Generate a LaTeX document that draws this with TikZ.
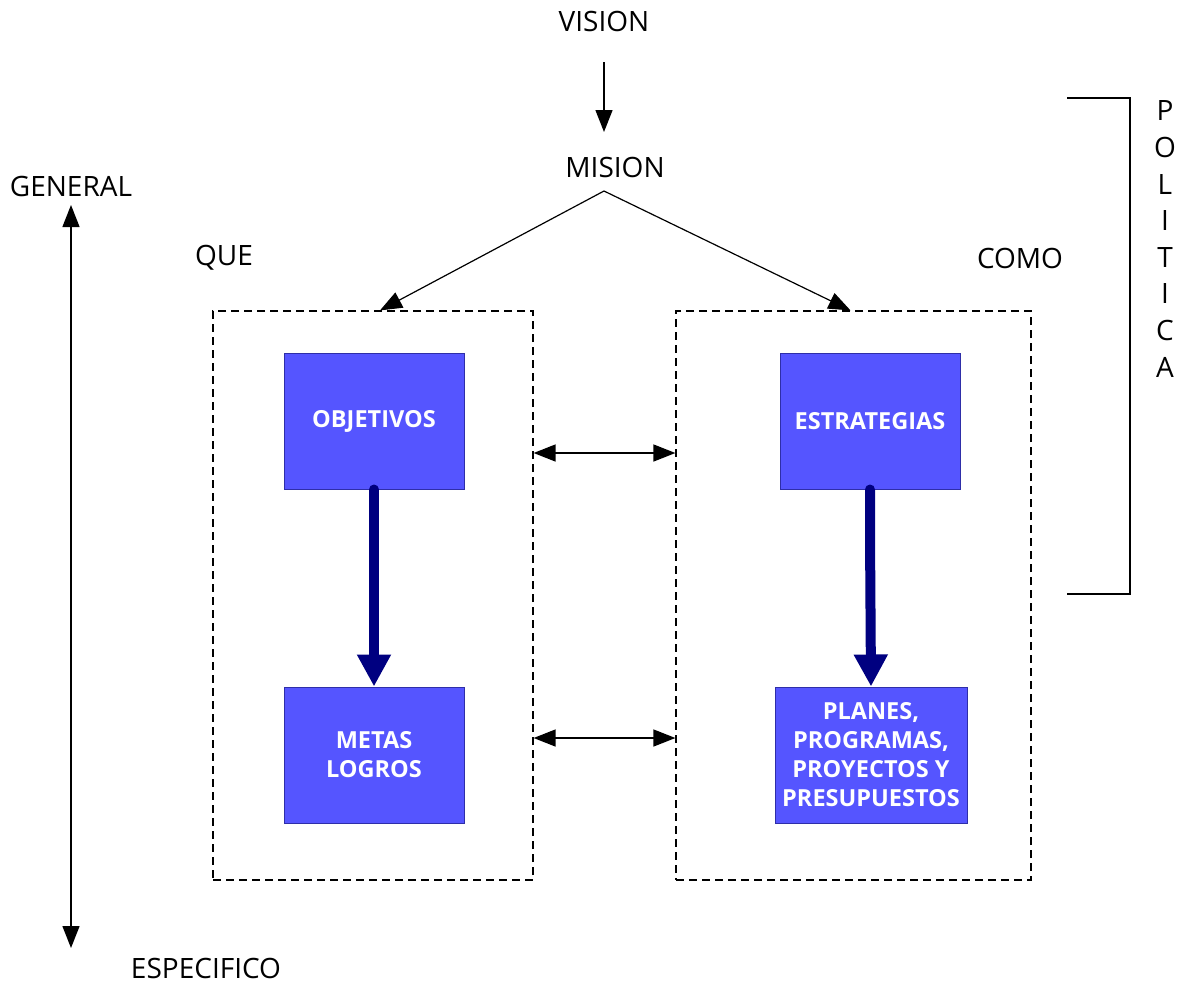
\documentclass[tikz,border=0pt]{standalone}
\usepackage{fontspec}
\setmainfont{Open Sans}
\usetikzlibrary{arrows.meta}
\definecolor{boxfill}{HTML}{5555FF}
\definecolor{boxline}{HTML}{2E2EA8}
\definecolor{flow}{HTML}{000080}
\begin{document}
\begin{tikzpicture}[x=1pt,y=-1pt,
  lbl/.style={font=\fontsize{28}{34}\selectfont, inner sep=0pt},
  bluebox/.style={draw=boxline, line width=1pt, fill=boxfill, text=white,
    font=\bfseries\fontsize{23.5}{29}\selectfont, align=center, inner sep=0pt},
  group/.style={draw, dashed, dash pattern=on 8pt off 5pt, line width=1.2pt, inner sep=0pt},
  tip/.tip={Triangle[length=22pt,width=17pt]},
  thin arrow/.style={line width=1.4pt, -tip},
  both arrow/.style={line width=1.4pt, tip-tip},
  thick arrow/.style={draw=flow, line width=10pt, line cap=round,
    -{Triangle[length=32pt,width=32pt]}}]
\useasboundingbox (0,0) rectangle (1181,986);

% top labels
\node[lbl] (vision) at (604,21) {VISION};
\node[lbl] (mision) at (615,167) {MISION};
\coordinate (vstart) at (604,62);
\coordinate (vend) at (604,132);
\coordinate (apex) at (604,191);

% side labels
\node[lbl] (general) at (71,186) {GENERAL};
\node[lbl] (especifico) at (206,968) {ESPECIFICO};
\coordinate (axistop) at (71,205);
\coordinate (axisbot) at (71,948);
\node[lbl] (que) at (224,258) {QUE};
\node[lbl] (como) at (1020,258) {COMO};

% dashed groups
\node[group, minimum width=320pt, minimum height=569pt] (left) at (373,595.5) {};
\node[group, minimum width=355pt, minimum height=569pt] (right) at (853.5,595.5) {};

% blue boxes
\node[bluebox, minimum width=180pt, minimum height=136pt] (obj) at (374,421) {OBJETIVOS};
\node[bluebox, minimum width=180pt, minimum height=136pt] (metas) at (374,755) {METAS\\LOGROS};
\node[bluebox, minimum width=180pt, minimum height=136pt] (estr) at (870,421) {ESTRATEGIAS};
\node[bluebox, minimum width=192pt, minimum height=136pt] (planes) at (871,755)
  {PLANES,\\PROGRAMAS,\\PROYECTOS Y\\PRESUPUESTOS};

% policy bracket
\coordinate (brtop) at (1067,98);
\coordinate (brcorner) at (1130,594);
\coordinate (brbot) at (1067,594);
\node[lbl, align=center, font=\fontsize{28}{36.6}\selectfont] (politica) at (1165,239)
  {P\\O\\L\\I\\T\\I\\C\\A};

% connectors
\draw[thin arrow] (vstart) -- (vend);
\draw[thin arrow, line width=1.2pt] (apex) -- ([xshift=7pt]left.north);
\draw[thin arrow, line width=1.2pt] (apex) -- ([xshift=-3pt]right.north);
\draw[both arrow] (axistop) -- (axisbot);

\coordinate (row1) at (0,453);
\coordinate (row2) at (0,738);
\draw[both arrow] (left.east |- row1) -- (right.west |- row1);
\draw[both arrow] (left.east |- row2) -- (right.west |- row2);

\draw[thick arrow] (obj.south) -- (metas.north);
\draw[thick arrow] (estr.south) -- ++(0,44) -- (planes.north);

\draw[line width=1.2pt] (brtop) -| (brcorner) -- (brbot);
\end{tikzpicture}
\end{document}
